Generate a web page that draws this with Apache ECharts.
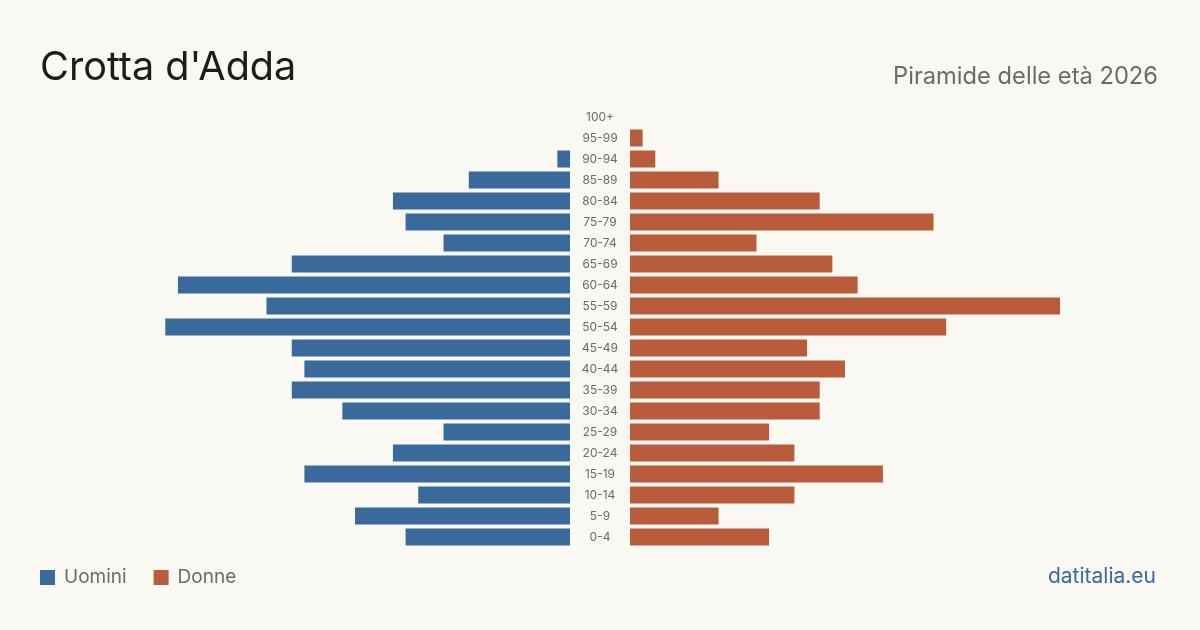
<!DOCTYPE html>
<html><head><meta charset="utf-8">
<script src="https://cdn.jsdelivr.net/npm/echarts@6/dist/echarts.min.js"></script>
<style>html,body{margin:0;padding:0;background:#f9f8f3}#c{width:1200px;height:630px}</style>
</head><body><div id="c"></div>
<script>
const categories = ['0-4','5-9','10-14','15-19','20-24','25-29','30-34','35-39','40-44','45-49','50-54','55-59','60-64','65-69','70-74','75-79','80-84','85-89','90-94','95-99','100+'];
const men =   [13,17,12,21,14,10,18,22,21,22,32,24,31,22,10,13,14,8,1,0,0];
const women = [11,7,13,20,13,11,15,15,17,14,25,34,18,16,10,24,15,7,2,1,0];
const maxVal = Math.max(...men, ...women);
const FONT = 'Inter, "Noto Sans", sans-serif';
const chart = echarts.init(document.getElementById('c'));
chart.setOption({
  backgroundColor: '#f9f8f3',
  animation: false,
  textStyle: {fontFamily: FONT},
  title: [
    {text: "Crotta d'Adda", left: 35, top: 43, textStyle: {fontSize: 39.6, fontWeight: 'normal', color: '#1c1c1c', fontFamily: FONT}},
    {text: 'Piramide delle età 2026', right: 37, top: 60, textStyle: {fontSize: 23.7, fontWeight: 'normal', color: '#6b6b6b', fontFamily: FONT}},
    {text: 'datitalia.eu', right: 39, top: 561, textStyle: {fontSize: 21, fontWeight: 'normal', color: '#3a6a9c', fontFamily: FONT}}
  ],
  legend: {
    left: 35, top: 563, itemWidth: 15, itemHeight: 15, itemGap: 27,
    icon: 'rect',
    textStyle: {fontSize: 19, color: '#6b6b6b', fontFamily: FONT, padding: [0,0,0,4]},
    data: ['Uomini', 'Donne']
  },
  grid: [
    {left: 140, width: 430, top: 106.5, height: 441},
    {left: 630, width: 430, top: 106.5, height: 441}
  ],
  xAxis: [
    {gridIndex: 0, type: 'value', max: maxVal, min: 0, inverse: true, show: false},
    {gridIndex: 1, type: 'value', max: maxVal, min: 0, show: false}
  ],
  yAxis: [
    {gridIndex: 0, type: 'category', data: categories, position: 'right',
     axisLine: {show: false}, axisTick: {show: false}, splitLine: {show: false},
     axisLabel: {show: true, align: 'center', margin: 30, fontSize: 12, color: '#6b6b6b', fontFamily: FONT}},
    {gridIndex: 1, type: 'category', data: categories, show: false}
  ],
  series: [
    {name: 'Uomini', type: 'bar', xAxisIndex: 0, yAxisIndex: 0, data: men, barWidth: 17, itemStyle: {color: '#3a6a9c'}},
    {name: 'Donne', type: 'bar', xAxisIndex: 1, yAxisIndex: 1, data: women, barWidth: 17, itemStyle: {color: '#b85c3c'}}
  ]
});
</script></body></html>
